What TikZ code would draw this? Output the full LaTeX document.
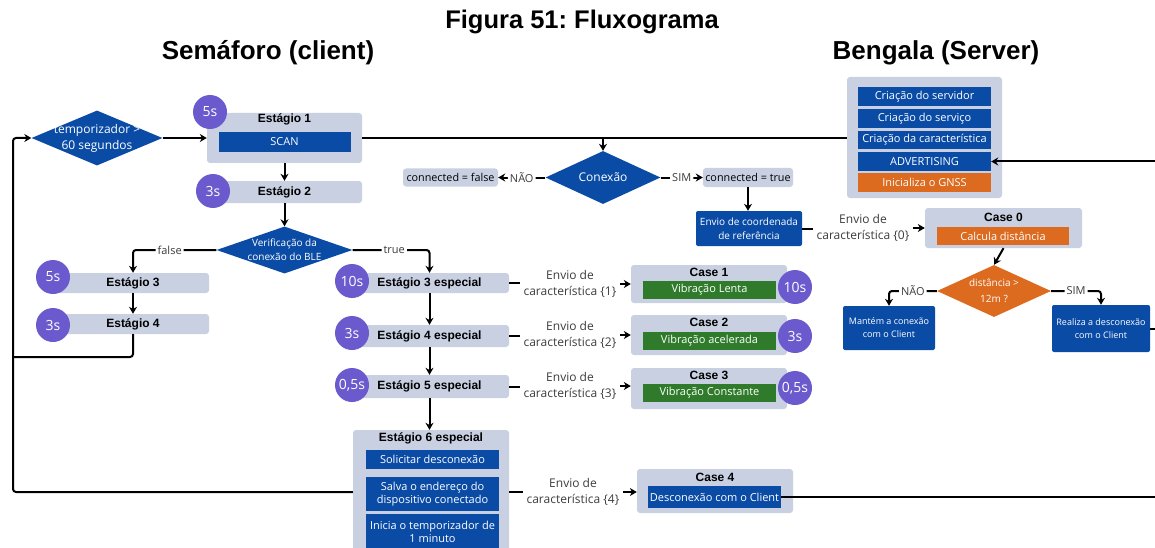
\documentclass[tikz,border=0pt]{standalone}
\usepackage{fontspec}
\setmainfont{Open Sans}
\newfontfamily\arialfont{Liberation Sans}
\usepackage{xcolor}
\usepackage{tikz}
\usetikzlibrary{arrows.meta,positioning,shapes.geometric}
\frenchspacing

\definecolor{panelgray}{HTML}{C8D0E1}
\definecolor{bleblue}{HTML}{0A4BA6}
\definecolor{gnssorange}{HTML}{DC6A1F}
\definecolor{vibgreen}{HTML}{2F7B2B}
\definecolor{timerpurple}{HTML}{6A5ACD}
\definecolor{notegray}{HTML}{3C3C3C}

\begin{document}
\begin{tikzpicture}[
  x=1pt, y=-1pt,
  font=\fontsize{11}{13}\selectfont,
  panel/.style={fill=panelgray, rounded corners=3pt, inner sep=0pt},
  stagebox/.style={panel, font=\arialfont\bfseries\fontsize{12}{14}\selectfont},
  stagetitle/.style={font=\arialfont\bfseries\fontsize{12}{14}\selectfont},
  bluebox/.style={fill=bleblue, text=white, inner sep=0pt, align=center},
  orangebox/.style={bluebox, fill=gnssorange},
  greenbox/.style={bluebox, fill=vibgreen},
  decision/.style={diamond, fill=bleblue, inner sep=0pt},
  dtext/.style={text=white, align=center},
  secs/.style={circle, fill=timerpurple, text=white, minimum size=34pt,
               inner sep=0pt, font=\fontsize{14}{16}\selectfont},
  sendlbl/.style={text=notegray, align=center, font=\fontsize{12}{16}\selectfont},
  branch/.style={fill=white, inner sep=2pt, text=notegray},
  heading/.style={font=\arialfont\bfseries\fontsize{26}{30}\selectfont},
  arrow/.style={-{Stealth[length=7pt, width=8pt]}, line width=2pt, rounded corners=3pt},
  link/.style={line width=2pt, rounded corners=3pt}
]
  \useasboundingbox (0,0) rectangle (1155,548);

  \node[heading, font=\arialfont\bfseries\fontsize{25.5}{30}\selectfont] (figtitle) at (582,22) {Figura 51: Fluxograma};
  \node[heading] (clienthead) at (268,53) {Semáforo (client)};
  \node[heading] (serverhead) at (936,53) {Bengala (Server)};

  \node[decision, minimum width=131pt, minimum height=55pt] (timer) at (97,138) {};
  \node[dtext, font=\fontsize{12}{16}\selectfont] (timert) at (timer) {temporizador >\\60 segundos};

  \node[panel, minimum width=155pt, minimum height=50pt] (st1) at (284.5,138) {};
  \node[stagetitle] (st1t) at (284.5,119) {Estágio 1};
  \node[bluebox, minimum width=132pt, minimum height=20pt] (scan) at (284.5,142) {SCAN};
  \node[secs] (t1) at (210,112) {5s};

  \node[stagebox, minimum width=155pt, minimum height=22pt] (st2) at (284.5,192) {Estágio 2};
  \node[secs] (t2) at (213,191) {3s};

  \node[decision, minimum width=136pt, minimum height=47pt] (ble) at (284.5,250) {};
  \node[dtext, font=\fontsize{10}{14}\selectfont] (blet) at (ble) {Verificação da\\conexão do BLE};

  \node[stagebox, minimum width=152pt, minimum height=20pt] (st3) at (133,283) {Estágio 3};
  \node[secs] (t3) at (53,277) {5s};
  \node[stagebox, minimum width=152pt, minimum height=20pt] (st4) at (133,324) {Estágio 4};
  \node[secs] (t4) at (53,325) {3s};

  \node[stagebox, minimum width=159pt, minimum height=20pt] (st3e) at (429.5,283) {Estágio 3 especial};
  \node[secs] (t3e) at (352,281) {10s};
  \node[stagebox, minimum width=159pt, minimum height=22pt] (st4e) at (429.5,336) {Estágio 4 especial};
  \node[secs] (t4e) at (352,333) {3s};
  \node[stagebox, minimum width=159pt, minimum height=23pt] (st5e) at (429.5,386.5) {Estágio 5 especial};
  \node[secs] (t5e) at (352,385) {0,5s};

  \node[panel, minimum width=156pt, minimum height=130pt] (st6) at (431,495) {};
  \node[stagetitle] (st6t) at (431,438) {Estágio 6 especial};
  \node[bluebox, minimum width=133pt, minimum height=19pt] (askoff) at (432.5,459.5) {Solicitar desconexão};
  \node[bluebox, minimum width=133pt, minimum height=34pt] (saveaddr) at (432.5,494) {Salva o endereço do\\dispositivo conectado};
  \node[bluebox, minimum width=133pt, minimum height=36pt] (starttimer) at (432.5,532) {Inicia o temporizador de\\1 minuto};

  \node[sendlbl] (send1) at (570,284) {Envio de\\característica \{1\}};
  \node[sendlbl] (send2) at (570,335) {Envio de\\característica \{2\}};
  \node[sendlbl] (send3) at (570,386) {Envio de\\característica \{3\}};
  \node[sendlbl] (send4) at (573,492) {Envio de\\característica \{4\}};

  \node[panel, minimum width=156pt, minimum height=38pt] (case1) at (709,284) {};
  \node[stagetitle] (case1t) at (709,272) {Case 1};
  \node[greenbox, minimum width=133pt, minimum height=18pt] (slow) at (709.5,290) {Vibração Lenta};
  \node[secs] (tc1) at (795,287) {10s};

  \node[panel, minimum width=156pt, minimum height=40pt] (case2) at (709,335) {};
  \node[stagetitle] (case2t) at (709,322) {Case 2};
  \node[greenbox, minimum width=133pt, minimum height=18pt] (fast) at (709.5,341) {Vibração acelerada};
  \node[secs] (tc2) at (795,336) {3s};

  \node[panel, minimum width=156pt, minimum height=41pt] (case3) at (709,388.5) {};
  \node[stagetitle] (case3t) at (709,375) {Case 3};
  \node[greenbox, minimum width=133pt, minimum height=18pt] (steady) at (709.5,393) {Vibração Constante};
  \node[secs] (tc3) at (795,388) {0,5s};

  \node[panel, minimum width=156pt, minimum height=44pt] (case4) at (715,491) {};
  \node[stagetitle] (case4t) at (715,477) {Case 4};
  \node[bluebox, minimum width=133pt, minimum height=22pt] (endclient) at (714.5,497) {Desconexão com o Client};

  \node[panel, minimum width=155pt, minimum height=121pt] (server) at (924.5,137.5) {};
  \node[bluebox, minimum width=133pt, minimum height=19pt] (mkserver) at (924.5,96.5) {Criação do servidor};
  \node[bluebox, minimum width=133pt, minimum height=19pt] (mkservice) at (924.5,118.5) {Criação do serviço};
  \node[bluebox, minimum width=133pt, minimum height=18pt] (mkchar) at (924.5,140) {Criação da característica};
  \node[bluebox, minimum width=133pt, minimum height=19pt] (advert) at (924.5,161.5) {ADVERTISING};
  \node[orangebox, minimum width=133pt, minimum height=19pt] (gnss) at (924.5,182.5) {Inicializa o GNSS};

  \node[decision, minimum width=115pt, minimum height=53pt] (conn) at (603,177.5) {};
  \node[dtext, font=\fontsize{12}{14}\selectfont] (connt) at (conn) {Conexão};
  \node[panel, minimum width=95pt, minimum height=18pt, font=\fontsize{10.8}{12}\selectfont] (cfalse) at (450.5,177.5) {connected = false};
  \node[panel, minimum width=90pt, minimum height=19pt, font=\fontsize{10.8}{12}\selectfont] (ctrue) at (748,177.5) {connected = true};
  \node[bluebox, rounded corners=2pt, minimum width=106pt, minimum height=35pt, font=\fontsize{10}{14}\selectfont] (refcoord) at (749,228.5) {Envio de coordenada\\de referência};
  \node[sendlbl] (send0) at (863,228) {Envio de\\característica \{0\}};

  \node[panel, minimum width=157pt, minimum height=40pt] (case0) at (1003.5,228) {};
  \node[stagetitle] (case0t) at (1003.5,217) {Case 0};
  \node[orangebox, minimum width=132pt, minimum height=18pt] (calcdist) at (1003,236) {Calcula distância};

  \node[decision, fill=gnssorange, minimum width=114pt, minimum height=52pt] (dist) at (994,291) {};
  \node[dtext, font=\fontsize{10}{16}\selectfont] (distt) at (dist) {distância >\\12m ?};
  \node[bluebox, rounded corners=2pt, minimum width=92pt, minimum height=44pt, font=\fontsize{9}{13}\selectfont] (keep) at (889,328) {Mantém a conexão\\com o Client};
  \node[bluebox, rounded corners=2pt, minimum width=98pt, minimum height=47pt, font=\fontsize{9}{13}\selectfont] (drop) at (1101,328.5) {Realiza a desconexão\\com o Client};

  \coordinate (edgeadv) at (1160,161.5);
  \coordinate (edgedrop) at (1160,328.5);
  \coordinate (edgecase4) at (1160,497);
  \coordinate (rail) at (13,492);
  \coordinate (railjoin) at (13,357);

  \draw[arrow] (timer.east) -- (st1.west);
  \draw[arrow] (st1.south) -- (st2.north);
  \draw[arrow] (st2.south) -- (ble.north);
  \draw[arrow] (ble.west) -| node[branch, pos=0.28] (lblfalse) {false} (st3.north);
  \draw[arrow] (ble.east) -| node[branch, pos=0.27] (lbltrue) {true} (st3e.north);
  \draw[arrow] (st3.south) -- (st4.north);
  \draw[link] (st4.south) |- (railjoin);
  \draw[arrow] (st6.west |- send4) -- (rail) |- (timer.west);
  \draw[arrow] (st3e.south) -- (st4e.north);
  \draw[arrow] (st4e.south) -- (st5e.north);
  \draw[arrow] (st5e.south) -- (st5e.south |- st6.north);

  \draw[link] (st3e.east) -- (st3e.east -| send1.west);
  \draw[arrow] (send1.east) -- (send1.east -| case1.west);
  \draw[link] (st4e.east) -- (st4e.east -| send2.west);
  \draw[arrow] (send2.east) -- (send2.east -| case2.west);
  \draw[link] (st5e.east) -- (st5e.east -| send3.west);
  \draw[arrow] (send3.east) -- (send3.east -| case3.west);
  \draw[link] (send4.west -| st6.east) -- (send4.west);
  \draw[arrow] (send4.east) -- (send4.east -| case4.west);
  \draw[link] (endclient.east) -- (edgecase4);

  \draw[link] (st1.east) -- (st1.east -| server.west);
  \draw[arrow] (conn.north |- st1.east) -- (conn.north);
  \draw[arrow] (conn.west) -- node[branch] (lblno) {NÃO} (cfalse.east);
  \draw[arrow] (conn.east) -- node[branch] (lblyes) {SIM} (ctrue.west);
  \draw[arrow] (ctrue.south) -- (ctrue.south |- refcoord.north);
  \draw[link] (refcoord.east) -- (refcoord.east -| send0.west);
  \draw[arrow] (send0.east) -- (send0.east -| case0.west);
  \draw[arrow] (edgeadv) -- (advert.east);
  \draw[arrow] (case0.south) -- (dist.north);
  \draw[arrow] (dist.west) -| node[branch, pos=0.25] (lblkeep) {NÃO} (keep.north);
  \draw[arrow] (dist.east) -| node[branch, pos=0.25] (lbldrop) {SIM} (drop.north);
  \draw[link] (drop.east) -- (edgedrop);
\end{tikzpicture}
\end{document}
